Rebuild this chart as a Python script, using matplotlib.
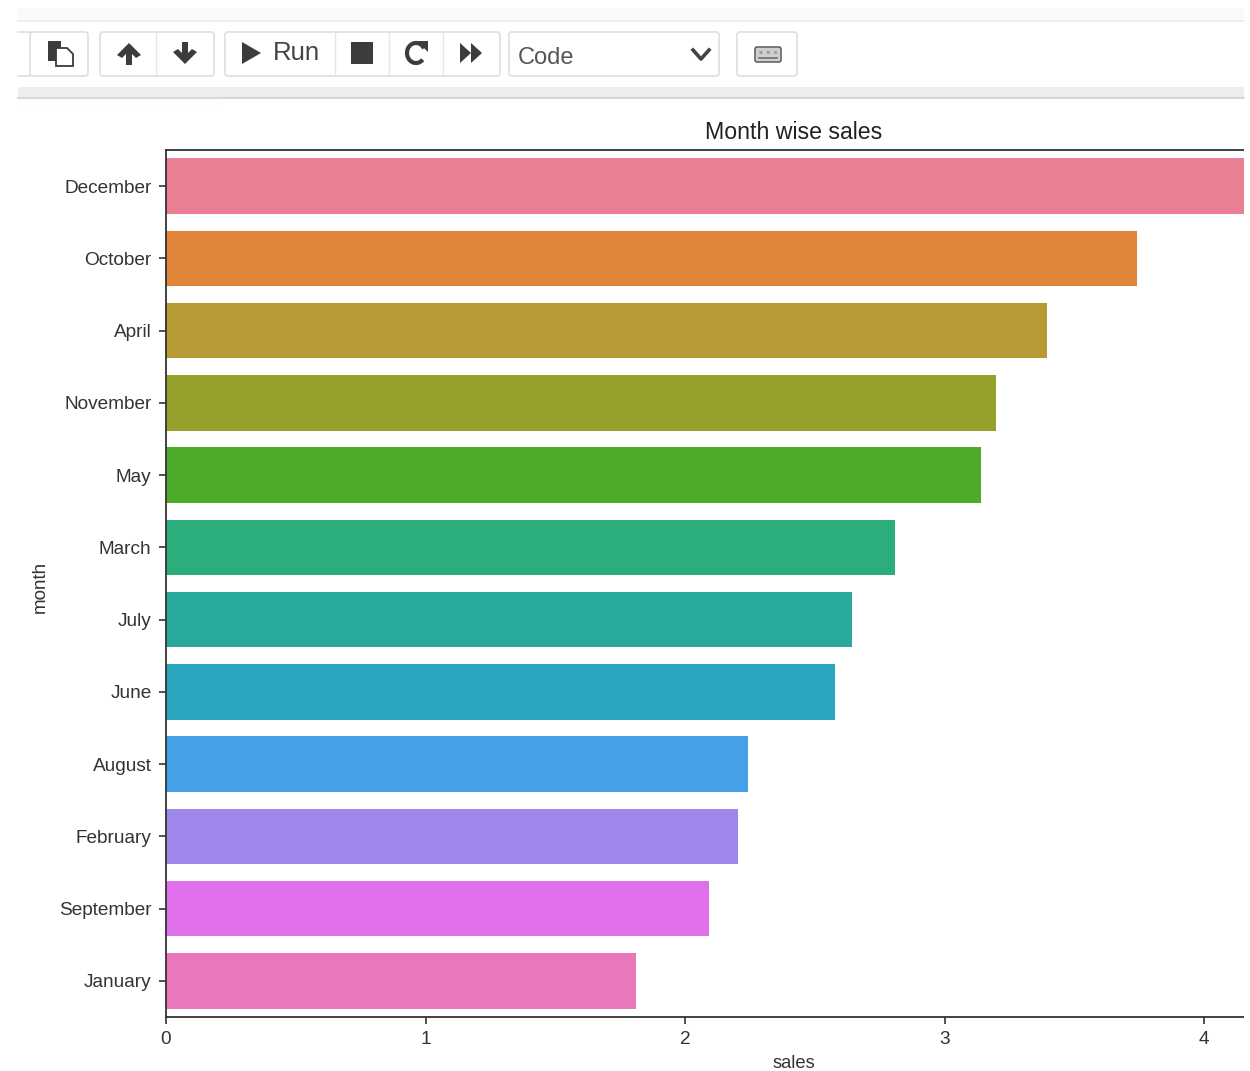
import matplotlib
matplotlib.use("Agg")
import matplotlib.pyplot as plt
from matplotlib.patches import Rectangle, FancyBboxPatch, Polygon, Arc

plt.rcParams['font.family'] = ['Liberation Sans', 'DejaVu Sans']

months = ["December", "October", "April", "November", "May", "March", "July",
          "June", "August", "February", "September", "January"]
# December runs past the cropped edge, so its value is an estimate
sales = [4.61, 3.74, 3.395, 3.20, 3.14, 2.81, 2.643, 2.578, 2.243, 2.204, 2.093, 1.811]
bar_colors = ["#e97f92", "#e08538", "#b89a35", "#95a02b", "#4dab2a", "#2bae7b",
              "#29a99c", "#2ba6bf", "#45a1e5", "#a087ec", "#df70ea", "#e878b9"]
xticks = [0, 1, 2, 3, 4]

W, H = 1250, 1071
fig = plt.figure(figsize=(W / 100, H / 100), dpi=100)

# chart, the axes run past the right edge of the screenshot
ax = fig.add_axes([166 / W, 1 - 1017 / H, (1422 - 166) / W, (1017 - 150) / H])
ax.barh(months, sales, height=0.77, color=bar_colors)
ax.set_xlim(0, 4.84)
ax.set_ylim(11.5, -0.5)
ax.set_xticks(xticks)
ax.tick_params(labelsize=13.7, colors="#333333", length=5, width=1.2, pad=5.5)
ax.tick_params(axis="x", pad=5)
ax.set_title("Month wise sales", fontsize=16.7, color="#222222", pad=8)
ax.set_xlabel("sales", fontsize=13.2, color="#333333", labelpad=5)
ax.set_ylabel("month", fontsize=13.6, color="#333333")
ax.yaxis.set_label_coords(-0.0935, 0.496)
for s in ["top", "left", "bottom", "right"]:
    ax.spines[s].set_linewidth(1.3)
    ax.spines[s].set_color("#333333")

# notebook toolbar drawn over the figure in pixel coordinates
tb = fig.add_axes([0, 0, 1, 1], zorder=5)
tb.set_xlim(0, W)
tb.set_ylim(H, 0)
tb.axis("off")
dark = "#3c3c3c"

# white strip where the screenshot stops
tb.add_patch(Rectangle((1244, 0), 6, H, fc="white", ec="none"))

tb.add_patch(Rectangle((18, 8), 1226, 12, fc="#f9f9f9", ec="none"))
tb.plot([18, 1244], [20.5, 20.5], color="#ebebeb", lw=1.2)
tb.add_patch(Rectangle((18, 87), 1226, 10, fc="#eeeeee", ec="none"))
tb.plot([18, 1244], [97.5, 97.5], color="#d0d0d0", lw=1.2)
tb.add_patch(Rectangle((18, 98), 200, 14, fc="#fdfdfd", ec="none"))


def group(x0, x1, dividers=()):
    tb.add_patch(FancyBboxPatch((x0, 32), x1 - x0, 44, boxstyle="round,pad=0,rounding_size=3",
                                fc="white", ec="#dedede", lw=1.2))
    for d in dividers:
        tb.plot([d, d], [33, 75], color="#e6e6e6", lw=1)


tb.add_patch(Rectangle((18, 31), 12, 46, fc="white", ec="none"))
group(30, 88)
tb.plot([18, 30], [32, 32], color="#dedede", lw=1.2)
tb.plot([18, 30], [76, 76], color="#dedede", lw=1.2)
group(100, 214, [156])
group(225, 500, [335, 389, 443])
group(509, 719)
group(737, 797)

# paste icon
tb.add_patch(Rectangle((48, 41), 13, 20, fc=dark, ec="none"))
tb.add_patch(Polygon([(56, 48), (67, 48), (73, 54), (73, 66), (56, 66)], fc="white", ec=dark, lw=1.3))

# up and down arrows
up = [(129, 43), (141, 55), (136, 58), (132, 54), (132, 65), (126, 65), (126, 54), (122, 58), (117, 55)]
tb.add_patch(Polygon(up, fc=dark, ec="none"))
down = [(185, 64), (173, 52), (178, 49), (182, 53), (182, 42), (188, 42), (188, 53), (192, 49), (197, 52)]
tb.add_patch(Polygon(down, fc=dark, ec="none"))

# run, stop, restart, fast-forward
tb.add_patch(Polygon([(242, 42), (261, 53), (242, 64)], fc=dark, ec="none"))
tb.text(273, 53.5, "Run", fontsize=18.5, color="#444444", va="center", ha="left")
tb.add_patch(Rectangle((351, 42), 22, 22, fc=dark, ec="none"))
tb.add_patch(Arc((416, 53), 18, 20, theta1=45, theta2=330, ec=dark, lw=3))
tb.add_patch(Polygon([(417, 41), (428, 41), (428, 52)], fc=dark, ec="none"))
tb.add_patch(Polygon([(460, 43), (471, 53), (460, 63)], fc=dark, ec="none"))
tb.add_patch(Polygon([(471, 43), (482, 53), (471, 63)], fc=dark, ec="none"))

# cell type selector
tb.text(518, 58, "Code", fontsize=17, color="#555555", va="center", ha="left")
tb.plot([693, 701, 709], [50, 59, 50], color="#444444", lw=2.6)

# keyboard icon
tb.add_patch(FancyBboxPatch((755, 47), 26, 15, boxstyle="round,pad=0,rounding_size=2",
                            fc="#cfcfcf", ec="#666666", lw=1.2))
tb.plot([759, 777], [58, 58], color="#777777", lw=1.3)
tb.plot([759, 777], [52, 52], color="#999999", lw=2, ls=":")

fig.savefig("out.png", dpi=100)
